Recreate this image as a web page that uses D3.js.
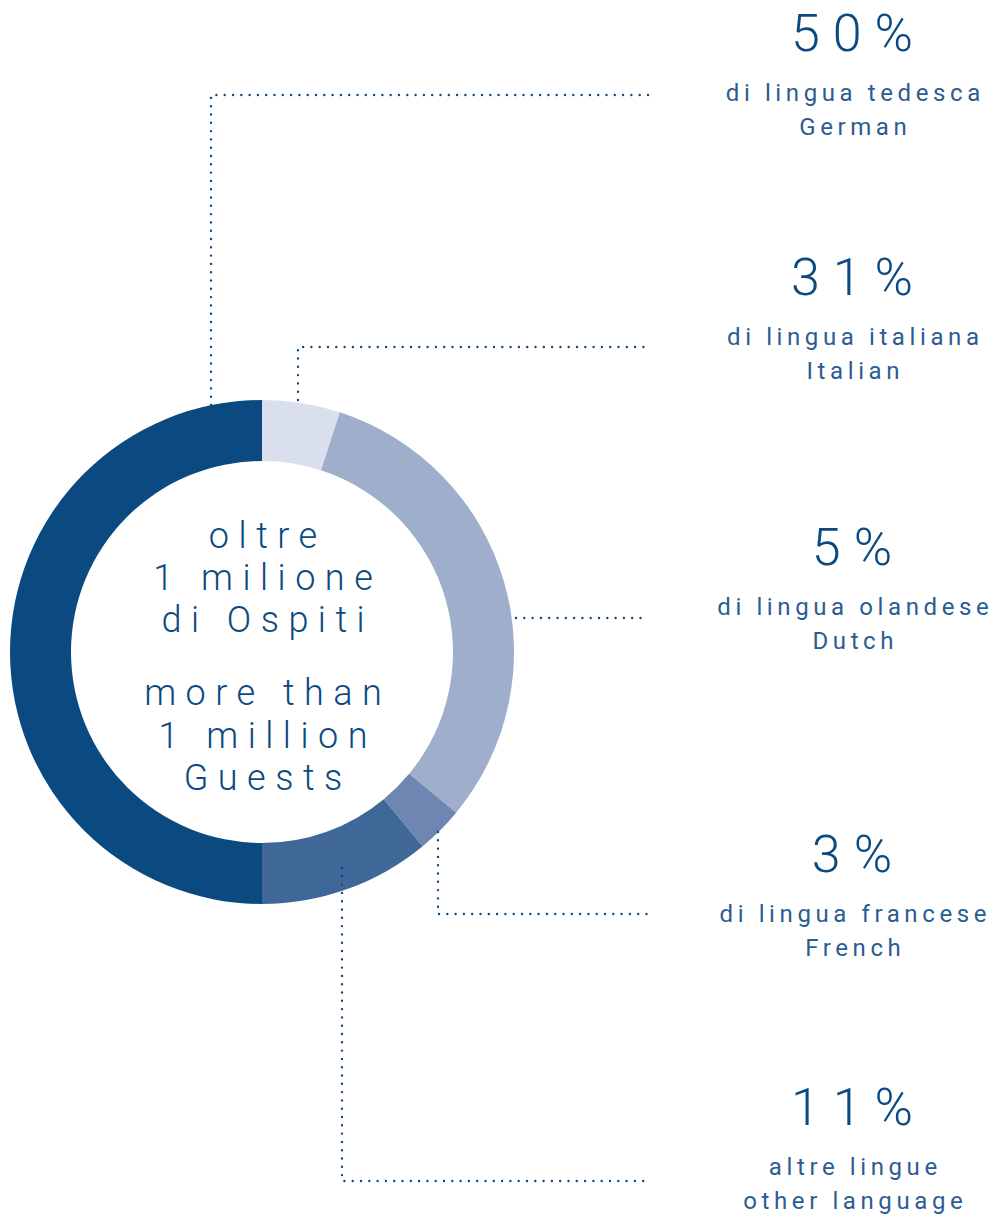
<!DOCTYPE html>
<html><head><meta charset="utf-8">
<script src="https://cdn.jsdelivr.net/npm/d3@7"></script>
<style>html,body{margin:0;padding:0;background:#fff;}svg{display:block;}</style>
</head><body>
<svg id="c" width="992" height="1218"></svg>
<script>
// Data (clockwise from 12 o'clock)
const categories = ["Dutch", "Italian", "French", "Other", "German"];
const values = [5, 31, 3, 11, 50];
const percentLabels = ["5%", "31%", "3%", "11%", "50%"];
const labelsIt = ["di lingua olandese", "di lingua italiana", "di lingua francese", "altre lingue", "di lingua tedesca"];
const labelsEn = ["Dutch", "Italian", "French", "other language", "German"];
const centerLines = ["oltre", "1 milione", "di Ospiti", "more than", "1 million", "Guests"];

const colors = ["#dadfed", "#9eaecb", "#6e87b2", "#3f6898", "#0b4a80"];
const textColor = "#0b4a80";

// Layout
const cx = 262, cy = 652, rOuter = 252, rInner = 191;
const labelX = 852;
const labelY = { Dutch: 565, Italian: 295, French: 872, Other: 1125, German: 51 };
const leaders = {
  German: [[211, 405], [211, 95], [650, 95]],
  Italian: [[298, 400], [298, 347], [650, 347]],
  Dutch: [[516, 618], [646, 618]],
  French: [[438, 832], [438, 914], [650, 914]],
  Other: [[342, 868], [342, 1181], [650, 1181]]
};

const svg = d3.select("#c");
const pie = d3.pie().sort(null).value(d => d)(values);
const arc = d3.arc().innerRadius(rInner).outerRadius(rOuter);

svg.append("g").attr("transform", `translate(${cx},${cy})`)
  .selectAll("path").data(pie).join("path")
  .attr("d", arc).attr("fill", (d, i) => colors[i]);

// leaders
const line = d3.line();
categories.forEach(c => {
  svg.append("path").attr("d", line(leaders[c]))
    .attr("fill", "none").attr("stroke", textColor)
    .attr("stroke-width", 2.4).attr("stroke-linecap", "round")
    .attr("stroke-dasharray", "0 8.3");
});

const font = "Roboto, 'DejaVu Sans', sans-serif";

// center text
const cyLines = [548, 590, 632, 705, 748, 790];
const centerLS = 9.5;
svg.append("g").selectAll("text").data(centerLines).join("text")
  .attr("x", cx + 1 + centerLS / 2).attr("y", (d, i) => cyLines[i])
  .attr("text-anchor", "middle")
  .attr("font-family", font).attr("font-weight", 300)
  .attr("font-size", 36).attr("letter-spacing", centerLS)
  .attr("fill", textColor).text(d => d);

// right labels
const pctLS = 13, lblLS = 4.6;
categories.forEach((c, i) => {
  const y0 = labelY[c];
  svg.append("text").attr("x", labelX + pctLS / 2).attr("y", y0)
    .attr("text-anchor", "middle").attr("font-family", font).attr("font-weight", 300)
    .attr("font-size", 52).attr("letter-spacing", pctLS)
    .attr("fill", textColor).text(percentLabels[i]);
  svg.append("text").attr("x", labelX + 1 + lblLS / 2).attr("y", y0 + 50)
    .attr("text-anchor", "middle").attr("font-family", font).attr("font-weight", 400)
    .attr("font-size", 24).attr("letter-spacing", lblLS)
    .attr("fill", "#2b5c92").text(labelsIt[i]);
  svg.append("text").attr("x", labelX + 1 + lblLS / 2).attr("y", y0 + 84)
    .attr("text-anchor", "middle").attr("font-family", font).attr("font-weight", 400)
    .attr("font-size", 24).attr("letter-spacing", lblLS)
    .attr("fill", "#2b5c92").text(labelsEn[i]);
});
</script>
</body></html>
